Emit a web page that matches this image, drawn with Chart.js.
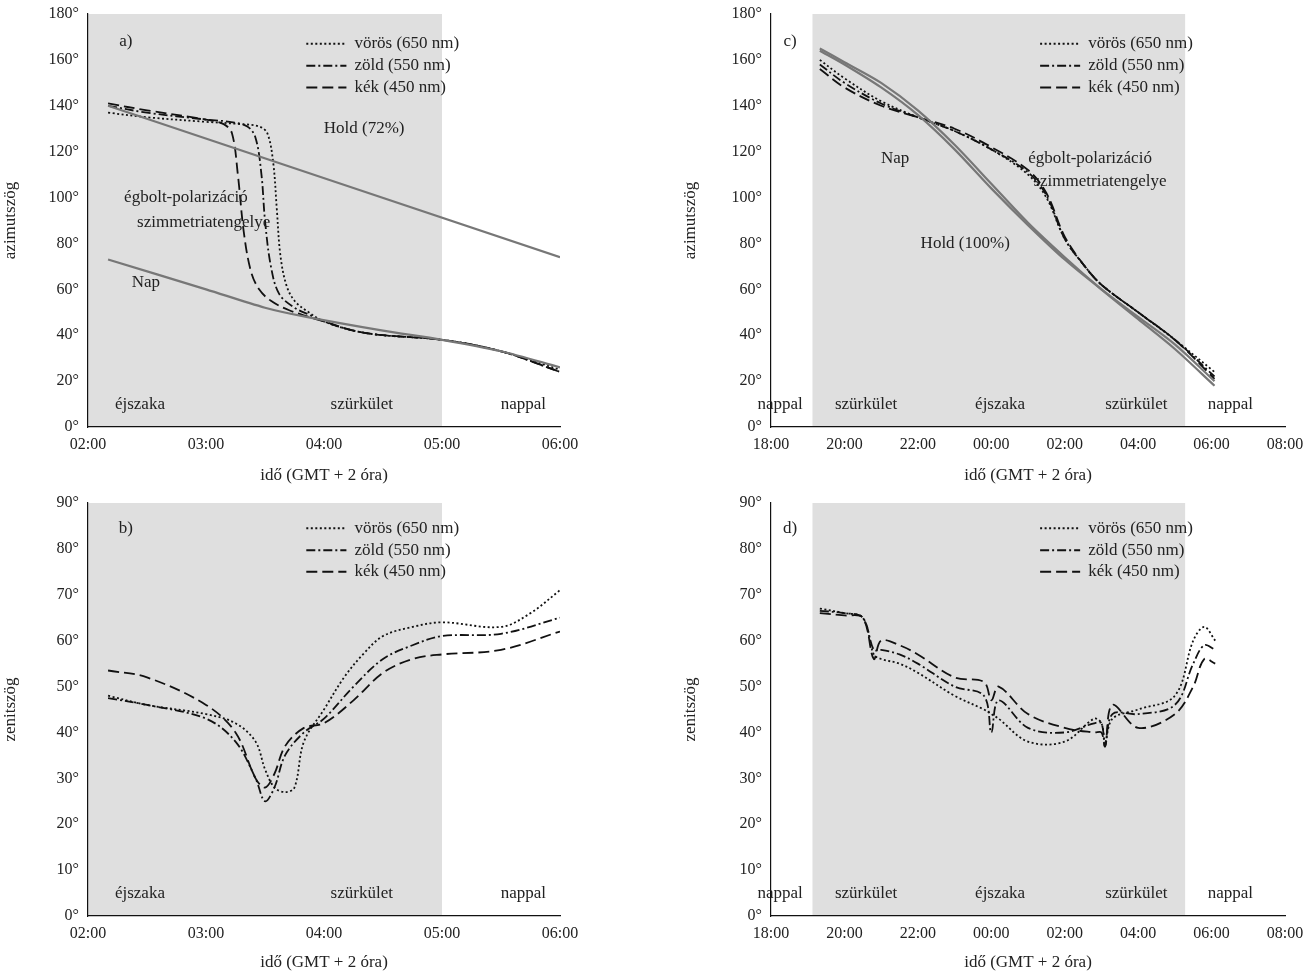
<!DOCTYPE html>
<html>
<head>
<meta charset="utf-8">
<title>Égbolt-polarizáció</title>
<script src="https://cdn.jsdelivr.net/npm/chart.js@4"></script>
<style>
  body { margin:0; background:#fff; width:1309px; height:977px; position:relative; overflow:hidden; }
  canvas { position:absolute; }
</style>
</head>
<body>
<canvas id="cA" style="left:0;top:0"></canvas>
<canvas id="cC" style="left:680px;top:0"></canvas>
<canvas id="cB" style="left:0;top:490px"></canvas>
<canvas id="cD" style="left:680px;top:490px"></canvas>
<script>
// ---- adatok ----
// a) azimutszög, reggel
var aTimeRed   = [2.17, 2.5, 3.0, 3.3, 3.45, 3.52, 3.57, 3.6, 3.63, 3.68, 3.75, 3.87, 4.0, 4.25, 4.5, 5.0, 5.5, 6.0];
var aRed       = [137, 135, 133, 132, 131, 128, 115, 95, 75, 62, 55, 50, 46, 42, 40, 38, 33, 25];
var aTimeGreen = [2.17, 2.5, 3.0, 3.2, 3.35, 3.42, 3.47, 3.5, 3.55, 3.62, 3.75, 3.87, 4.0, 4.25, 4.5, 5.0, 5.5, 6.0];
var aGreen     = [140, 137, 134, 133, 131, 126, 110, 90, 70, 58, 52, 49, 46, 42, 40, 38, 33, 24];
var aTimeBlue  = [2.17, 2.5, 3.0, 3.15, 3.22, 3.27, 3.32, 3.38, 3.45, 3.55, 3.7, 3.87, 4.0, 4.25, 4.5, 5.0, 5.5, 6.0];
var aBlue      = [141, 138, 134, 132, 128, 110, 85, 68, 60, 55, 51, 48, 46, 42, 40, 38, 33, 24];
var aTimeSun   = [2.17, 3.0, 3.5, 3.85, 4.5, 5.0, 5.5, 6.0];
var aSun       = [73, 60, 52, 48, 42, 38, 33, 26];
var aTimeMoon  = [2.17, 6.0];
var aMoon      = [140, 74];

// b) zenitszög, reggel
var bTimeRed   = [2.17, 2.5, 3.0, 3.25, 3.42, 3.5, 3.58, 3.67, 3.75, 3.83, 4.0, 4.17, 4.33, 4.5, 4.75, 5.0, 5.5, 5.75, 6.0];
var bRed       = [48, 46, 44, 42, 38, 32, 28, 27, 28, 38, 45, 52, 57, 61, 63, 64, 63, 66, 71];
var bTimeGreen = [2.17, 2.5, 3.0, 3.25, 3.42, 3.5, 3.58, 3.67, 3.83, 4.0, 4.25, 4.5, 4.75, 5.0, 5.5, 6.0];
var bGreen     = [47.5, 46, 43, 38, 30, 25, 28, 35, 40, 43, 50, 56, 59, 61, 61.5, 65];
var bTimeBlue  = [2.17, 2.5, 3.0, 3.25, 3.42, 3.5, 3.58, 3.67, 3.83, 4.0, 4.25, 4.5, 4.75, 5.0, 5.5, 6.0];
var bBlue      = [53.5, 52, 46, 40, 30, 28, 31, 37, 41, 42, 47, 53, 56, 57, 58, 62];

// c) azimutszög, éjszaka (óra, 24 fölött = másnap)
var cTime      = [19.33, 20, 21, 22, 23, 24, 25, 25.5, 26, 26.5, 27, 28, 29, 30.08];
var cRed       = [160, 152, 142, 135, 129, 121, 110, 100, 82, 71, 62, 50, 38, 24];
var cGreen     = [158, 150, 141, 135, 129, 121, 111, 101, 82, 71, 62, 50, 38, 22];
var cBlue      = [156, 148, 140, 135, 130, 122, 112, 102, 83, 71, 62, 50, 38, 21];
var cTimeSun   = [19.33, 20, 21, 22, 23, 24, 25, 26, 27, 28, 29, 30.08];
var cSun       = [164, 158, 148, 136, 121, 104, 88, 73, 60, 48, 36, 20];
var cMoon      = [165, 159, 150, 138, 123, 106, 89, 74, 60, 47, 34, 18];

// d) zenitszög, éjszaka
var dTime      = [19.33, 20, 20.5, 20.8, 21, 21.5, 22, 23, 23.8, 24, 24.2, 25, 26, 26.8, 27, 27.1, 27.3, 28, 29, 29.5, 29.8, 30.1];
var dRed       = [67, 66, 65, 57, 56, 55, 53, 48, 45, 44, 43, 38, 38, 43, 42, 38, 43, 45, 48, 60, 63, 60];
var dGreen     = [66.5, 66, 65, 58, 58, 57, 55, 50, 48, 40, 47, 41, 40, 42, 42, 37, 44, 44, 46, 55, 59, 58];
var dBlue      = [66, 65.5, 65, 56, 60, 59, 57, 52, 51, 47, 50, 44, 41, 40, 40, 37, 46, 41, 44, 50, 56, 55];

var legendLabels = ['vörös (650 nm)', 'zöld (550 nm)', 'kék (450 nm)'];
var dashes = [[2, 2.5], [9, 3, 2, 3], [11, 5]];

var FONT = '"Liberation Serif", "DejaVu Serif", serif';
Chart.defaults.font.family = FONT;
Chart.defaults.font.size = 16;
Chart.defaults.color = '#222';

function pts(xs, ys) { return xs.map(function (x, i) { return { x: x, y: ys[i] }; }); }
function hhmm(v) { var h = ((Math.round(v) % 24) + 24) % 24; return (h < 10 ? '0' : '') + h + ':00'; }

// háttér, feliratok, jelmagyarázat
var decoPlugin = {
  id: 'deco',
  beforeDraw: function (chart) {
    var o = chart.$deco, c = chart.ctx, xs = chart.scales.x, a = chart.chartArea;
    c.save();
    c.fillStyle = '#dfdfdf';
    var x0 = xs.getPixelForValue(o.shade[0]), x1 = xs.getPixelForValue(o.shade[1]);
    c.fillRect(x0, a.top, x1 - x0, a.bottom - a.top);
    c.restore();
  },
  afterDatasetsDraw: function (chart) {
    var o = chart.$deco, c = chart.ctx, xs = chart.scales.x, ys = chart.scales.y;
    c.save();
    c.fillStyle = '#222';
    c.font = '17px ' + FONT;
    c.textBaseline = 'middle';
    o.texts.forEach(function (t) {
      c.textAlign = 'center';
      c.fillText(t[0], xs.getPixelForValue(t[1]), ys.getPixelForValue(t[2]));
    });
    var L = o.legend;
    legendLabels.forEach(function (lab, i) {
      var y = ys.getPixelForValue(L.y[i]);
      c.strokeStyle = '#111'; c.lineWidth = 2; c.setLineDash(dashes[i]);
      c.beginPath(); c.moveTo(xs.getPixelForValue(L.x0), y); c.lineTo(xs.getPixelForValue(L.x1), y); c.stroke();
      c.setLineDash([]);
      c.textAlign = 'left';
      c.fillText(lab, xs.getPixelForValue(L.x1) + 8, y);
    });
    c.restore();
  }
};

function line(data, i) {
  return { data: data, borderColor: '#111', borderWidth: 1.8, borderDash: dashes[i], pointRadius: 0, tension: 0.35, fill: false };
}
function ref(data) {
  return { data: data, borderColor: '#777', borderWidth: 2.2, pointRadius: 0, tension: 0.3, fill: false };
}

function panel(id, w, h, datasets, xr, xStep, yMax, yStep, yTitle, top, yW, xH, extra) {
  var cv = document.getElementById(id);
  cv.width = w; cv.height = h; cv.style.width = w + 'px'; cv.style.height = h + 'px';
  return new Chart(cv, {
    type: 'line',
    data: { datasets: datasets },
    plugins: [{ id: 'init', beforeInit: function (c) { c.$deco = extra; } }, decoPlugin],
    options: {
      responsive: false, animation: false,
      layout: { padding: { top: top, right: 24, left: 0, bottom: 0 } },
      plugins: { legend: { display: false }, tooltip: { enabled: false } },
      scales: {
        x: {
          type: 'linear', min: xr[0], max: xr[1],
          border: { color: '#111', width: 1.2 },
          grid: { display: false, drawTicks: true, tickLength: 6, color: '#111' },
          ticks: { stepSize: xStep, callback: function (v) { return hhmm(v); }, maxRotation: 0, color: '#222', padding: 2 },
          title: { display: true, text: 'idő (GMT + 2 óra)', padding: { top: 0 }, color: '#222', font: { size: 17 } },
          afterFit: function (s) { s.height = xH; }
        },
        y: {
          min: 0, max: yMax,
          border: { color: '#111', width: 1.2 },
          grid: { display: false, drawTicks: true, tickLength: 6 },
          ticks: { stepSize: yStep, callback: function (v) { return v + '°'; }, color: '#222' },
          title: { display: true, text: yTitle, padding: 0, color: '#222', font: { size: 17 } },
          afterFit: function (s) { s.width = yW; }
        }
      }
    }
  });
}

panel('cA', 584, 490, [
  ref(pts(aTimeMoon, aMoon)), ref(pts(aTimeSun, aSun)),
  line(pts(aTimeRed, aRed), 0), line(pts(aTimeGreen, aGreen), 1), line(pts(aTimeBlue, aBlue), 2)
], [2, 6], 1, 180, 20, 'azimutszög', 14, 88, 63, {
  shade: [2, 5],
  legend: { x0: 3.85, x1: 4.19, y: [167, 157.5, 148] },
  texts: [['a)', 2.32, 168], ['Hold (72%)', 4.34, 130], ['égbolt-polarizáció', 2.83, 100], ['szimmetriatengelye', 2.98, 89],
          ['Nap', 2.49, 63], ['éjszaka', 2.44, 10], ['szürkület', 4.32, 10], ['nappal', 5.69, 10]]
});

panel('cC', 629, 490, [
  ref(pts(cTimeSun, cSun)), ref(pts(cTimeSun, cMoon)),
  line(pts(cTime, cRed), 0), line(pts(cTime, cGreen), 1), line(pts(cTime, cBlue), 2)
], [18, 32], 2, 180, 20, 'azimutszög', 14, 91, 63, {
  shade: [19.13, 29.28],
  legend: { x0: 25.33, x1: 26.42, y: [167, 157.5, 148] },
  texts: [['c)', 18.52, 168], ['Nap', 21.38, 117], ['égbolt-polarizáció', 26.69, 117], ['szimmetriatengelye', 26.96, 107],
          ['Hold (100%)', 23.29, 80], ['nappal', 18.25, 10], ['szürkület', 20.59, 10], ['éjszaka', 24.24, 10],
          ['szürkület', 27.95, 10], ['nappal', 30.51, 10]]
});

panel('cB', 584, 487, [
  line(pts(bTimeRed, bRed), 0), line(pts(bTimeGreen, bGreen), 1), line(pts(bTimeBlue, bBlue), 2)
], [2, 6], 1, 90, 10, 'zenitszög', 13, 88, 61, {
  shade: [2, 5],
  legend: { x0: 3.85, x1: 4.19, y: [84.5, 79.7, 75] },
  texts: [['b)', 2.32, 84.5], ['éjszaka', 2.44, 5], ['szürkület', 4.32, 5], ['nappal', 5.69, 5]]
});

panel('cD', 629, 487, [
  line(pts(dTime, dRed), 0), line(pts(dTime, dGreen), 1), line(pts(dTime, dBlue), 2)
], [18, 32], 2, 90, 10, 'zenitszög', 13, 91, 61, {
  shade: [19.13, 29.28],
  legend: { x0: 25.33, x1: 26.42, y: [84.5, 79.7, 75] },
  texts: [['d)', 18.52, 84.5], ['nappal', 18.25, 5], ['szürkület', 20.59, 5], ['éjszaka', 24.24, 5],
          ['szürkület', 27.95, 5], ['nappal', 30.51, 5]]
});
</script>
</body>
</html>
